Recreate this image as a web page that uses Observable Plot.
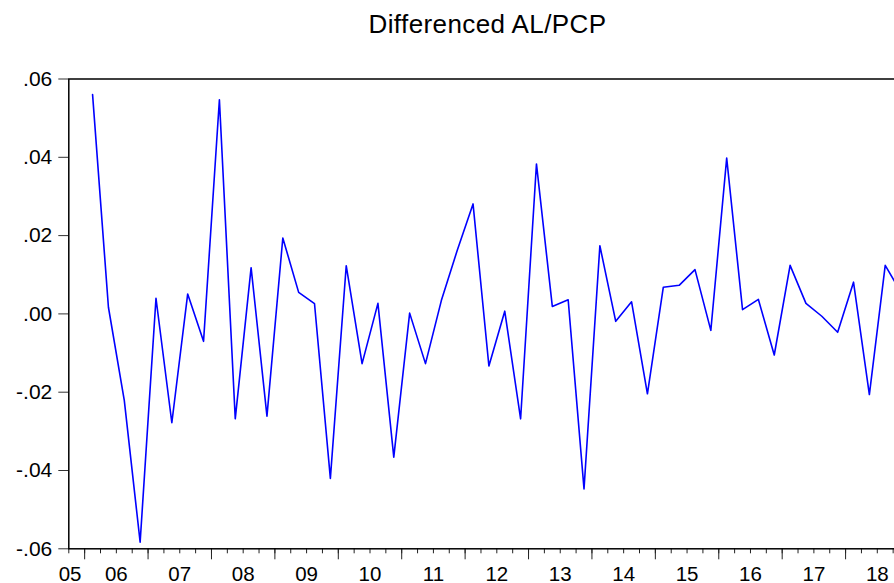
<!DOCTYPE html>
<html>
<head>
<meta charset="utf-8">
<script src="https://cdn.jsdelivr.net/npm/d3@7"></script>
<script src="https://cdn.jsdelivr.net/npm/@observablehq/plot@0.6"></script>
<style>
  html, body { margin: 0; padding: 0; background: #fff; overflow: hidden; width: 894px; height: 583px; }
  #chart { width: 912px; }
  #chart svg { max-width: none !important; display: block; }
  #title { box-sizing: border-box; height: 48px; padding-top: 11px; margin-left: 67px; width: 841px;
           text-align: center; font-family: "Liberation Sans", Arial, sans-serif; font-size: 26px;
           line-height: 26px; letter-spacing: 0.4px; color: #000; white-space: nowrap; }
</style>
</head>
<body>
<div id="title">Differenced AL/PCP</div>
<div id="chart"></div>
<script>
// Quarterly observations, 2006Q1 .. 2018Q4
const quarters = [
  "2006Q1","2006Q2","2006Q3","2006Q4","2007Q1","2007Q2","2007Q3","2007Q4",
  "2008Q1","2008Q2","2008Q3","2008Q4","2009Q1","2009Q2","2009Q3","2009Q4",
  "2010Q1","2010Q2","2010Q3","2010Q4","2011Q1","2011Q2","2011Q3","2011Q4",
  "2012Q1","2012Q2","2012Q3","2012Q4","2013Q1","2013Q2","2013Q3","2013Q4",
  "2014Q1","2014Q2","2014Q3","2014Q4","2015Q1","2015Q2","2015Q3","2015Q4",
  "2016Q1","2016Q2","2016Q3","2016Q4","2017Q1","2017Q2","2017Q3","2017Q4",
  "2018Q1","2018Q2","2018Q3","2018Q4"
];
const values = [
  0.0560, 0.0017, -0.0221, -0.0583,
  0.0040, -0.0278, 0.0051, -0.0070,
  0.0547, -0.0268, 0.0118, -0.0261,
  0.0194, 0.0055, 0.0026, -0.0420,
  0.0123, -0.0127, 0.0027, -0.0366,
  0.0002, -0.0127, 0.0034, 0.0162,
  0.0281, -0.0133, 0.0007, -0.0268,
  0.0383, 0.0019, 0.0036, -0.0447,
  0.0174, -0.0019, 0.0031, -0.0204,
  0.0068, 0.0073, 0.0113, -0.0042,
  0.0398, 0.0011, 0.0037, -0.0105,
  0.0124, 0.0027, -0.0006, -0.0047,
  0.0081, -0.0206, 0.0124, 0.0055
];
const yearLabels = ["05","06","07","08","09","10","11","12","13","14","15","16","17","18"];
const yTicks = [-0.06, -0.04, -0.02, 0.00, 0.02, 0.04, 0.06];

// time as fractional year: quarter start + half a quarter (centre of period)
const data = quarters.map((q, i) => {
  const yr = +q.slice(0, 4), qq = +q.slice(5);
  return { t: yr + (qq - 1) / 4 + 0.125, v: values[i] };
});
const xStart = 2005.75, xEnd = 2019;
const quarterBounds = d3.range(0, Math.round((xEnd - xStart) * 4) + 1).map(k => xStart + k / 4);
const yearBounds = d3.range(2006, 2020);
const labelData = yearLabels.map((s, i) => ({
  x: i === 0 ? xStart + 0.02 : 2000 + (+s) + 0.5, s
}));
const fmtY = d => { const s = d3.format(".2f")(Math.abs(d)).replace(/^0/, ""); return (d < 0 ? "-" : "") + s; };

const chart = Plot.plot({
  width: 912,
  height: 535,
  marginLeft: 68.3,
  marginRight: 3.5,
  marginTop: 30.5,
  marginBottom: 34.7,
  style: { fontFamily: "'Liberation Sans', Arial, sans-serif", fontSize: "21px", color: "#000", background: "#fff", overflow: "visible", maxWidth: "none" },
  x: { type: "linear", domain: [xStart, xEnd], axis: null },
  y: { domain: [-0.06, 0.06], axis: null },
  marks: [
    Plot.axisY({ ticks: yTicks, tickSize: 10, tickPadding: 6.5, tickFormat: fmtY, label: null,
                 stroke: "#333", fontSize: 21, letterSpacing: 0.8 }),
    Plot.axisX({ ticks: quarterBounds, tickSize: 5, tickFormat: () => "", label: null, stroke: "#222" }),
    Plot.axisX({ ticks: yearBounds, tickSize: 11, tickFormat: () => "", label: null, stroke: "#222" }),
    Plot.text(labelData, { x: "x", text: "s", frameAnchor: "bottom", dy: 17.6, lineAnchor: "top",
                           fontSize: 20.5, letterSpacing: 0.8, fill: "#000" }),
    Plot.line(data, { x: "t", y: "v", stroke: "#0000ff", strokeWidth: 1.6 }),
    Plot.frame({ stroke: "#000", strokeWidth: 1.5 })
  ]
});
document.getElementById("chart").appendChild(chart);
</script>
</body>
</html>
